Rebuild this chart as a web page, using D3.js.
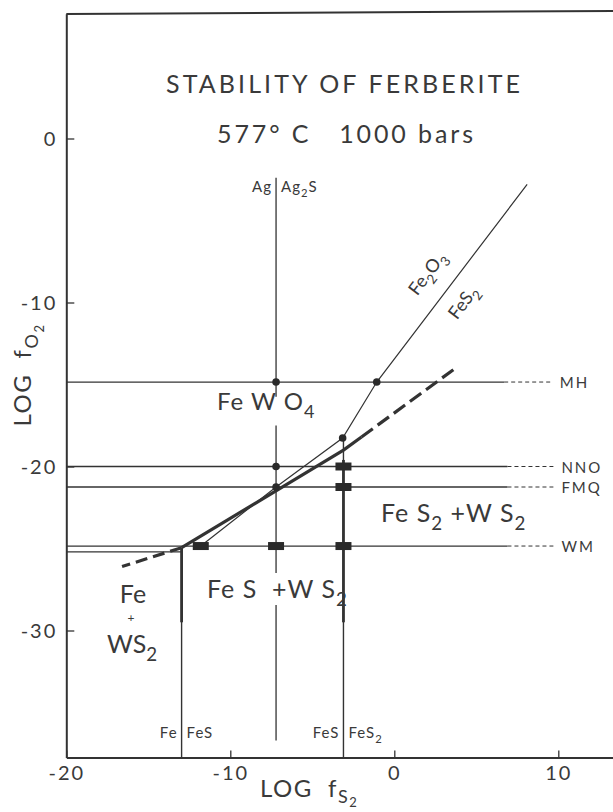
<!DOCTYPE html>
<html><head><meta charset="utf-8">
<script src="https://cdn.jsdelivr.net/npm/d3@7"></script>
<style>
html,body{margin:0;padding:0;background:#fff;}
svg{display:block;}
text{font-family:Lato,"Open Sans",sans-serif;fill:#3a3a3a;white-space:pre;}
</style></head><body>
<script>
// ---- data (log units) ----
const xTicks = [-20, -10, 0, 10];
const yTicks = [0, -10, -20, -30];
const bufferNames = ["MH", "NNO", "FMQ", "WM"];
const bufferLogFO2 = [-14.85, -20.0, -21.25, -24.85];
const bufferSolidTo = [6.7, 6.9, 6.9, 6.9];
const bufferDashTo = [9.6, 9.7, 9.7, 9.7];
const sulfidationLeft = ["Fe", "Ag", "FeS"];
const sulfidationRight = ["FeS", "Ag2S", "FeS2"];
const sulfidationLogFS2 = [-12.97, -7.21, -3.1];
const boundarySolid = [[-12.97, -24.95], [-3.1, -19.0], [-2.0, -18.2]];
const boundaryDashed = [[-2.0, -18.2], [3.6, -14.1]];
const metastableExt = [[-12.97, -24.95], [-16.6, -26.1]];
const feWS2Line = [[-20, -25.2], [-12.97, -25.2]];
const hemPyLine = [[8.1, -2.8], [-1.07, -14.85], [-3.15, -18.26], [-7.21, -21.25], [-11.8, -24.85]];
const agSegments = [[-2.4, -15.75], [-17.5, -26.5], [-28.45, -36.7]];
const feFeSThin = [-24.95, -37.75];
const feFeSThick = [-24.95, -29.5];
const feSFeS2Thin = [-18.26, -37.75];
const feSFeS2Thick = [-19.6, -29.5];
const circlePts = [[-7.21, -14.85], [-1.07, -14.85], [-7.21, -20.0], [-7.21, -21.25], [-3.15, -18.26]];
const boxPts = [[-3.1, -20.0], [-3.1, -21.25], [-3.1, -24.85], [-7.21, -24.85], [-11.8, -24.85]];

// ---- layout ----
const W = 613, H = 812;
const svg = d3.select("body").append("svg").attr("width", W).attr("height", H);
const x = d3.scaleLinear().domain([-20, 14]).range([66.3, 66.3 + 34 * 16.4]);
const y = d3.scaleLinear().domain([-37.75, 7.6]).range([138.5 + 37.75 * 16.4, 138.5 - 7.6 * 16.4]);
const ink = "#333";
const line = d3.line().x(d => x(d[0])).y(d => y(d[1]));

function path(pts, w, dash) {
  const p = svg.append("path").attr("d", line(pts)).attr("fill", "none")
    .attr("stroke", ink).attr("stroke-width", w);
  if (dash) p.attr("stroke-dasharray", dash);
  return p;
}
// parts: [text, level, (optional) font size]
function richText(px, py, parts, size, opts = {}) {
  const t = svg.append("text").attr("x", px).attr("y", py).attr("font-size", size);
  if (opts.anchor) t.attr("text-anchor", opts.anchor);
  if (opts.ls) t.attr("letter-spacing", opts.ls);
  if (opts.transform) t.attr("transform", opts.transform);
  const shift = opts.shift || [0, size * 0.32, size * 0.32 + 5];
  let prev = 0;
  parts.forEach(([s, l, f]) => {
    const fs = f || (l === 0 ? size : size * (l === 1 ? 0.75 : 0.55));
    t.append("tspan").attr("dy", shift[l] - prev).attr("font-size", fs).text(s);
    prev = shift[l];
  });
  return t;
}

// frame
svg.append("line").attr("x1", x(-20)).attr("x2", W + 5).attr("y1", 14).attr("y2", 11)
  .attr("stroke", ink).attr("stroke-width", 2);

// axes
const fmt = d => d < 0 ? "-" + Math.abs(d) : String(d);
const xAxis = d3.axisBottom(x).tickValues(xTicks).tickSizeInner(-7).tickSizeOuter(0).tickPadding(8).tickFormat(fmt);
const gx = svg.append("g").attr("transform", `translate(0,${y(-37.75)})`).call(xAxis);
const yAxis = d3.axisLeft(y).tickValues(yTicks).tickSizeInner(-8).tickSizeOuter(0).tickPadding(9).tickFormat(fmt);
const gy = svg.append("g").attr("transform", `translate(${x(-20)},0)`).call(yAxis);
[gx, gy].forEach(g => {
  g.select(".domain").attr("stroke", ink).attr("stroke-width", 2);
  g.selectAll(".tick line").attr("stroke", ink).attr("stroke-width", 1.3);
  g.selectAll(".tick text").attr("font-family", "Lato, 'Open Sans', sans-serif")
    .attr("font-size", 20).attr("fill", "#3a3a3a").attr("letter-spacing", 2);
});
gy.selectAll(".tick text").attr("dy", "0.36em");

// buffer lines
bufferLogFO2.forEach((v, i) => {
  path([[-20, v], [bufferSolidTo[i], v]], 1.3);
  path([[bufferSolidTo[i], v], [bufferDashTo[i], v]], 1, "4,3");
  svg.append("text").attr("x", x(bufferDashTo[i]) + 8).attr("y", y(v) + 6)
    .attr("font-size", 15).attr("letter-spacing", 2).text(bufferNames[i]);
});
path(feWS2Line, 1.3);

// sulfidation lines
agSegments.forEach(s => path([[sulfidationLogFS2[1], s[0]], [sulfidationLogFS2[1], s[1]]], 1.3));
path([[sulfidationLogFS2[0], feFeSThin[0]], [sulfidationLogFS2[0], feFeSThin[1]]], 1.4);
path([[sulfidationLogFS2[0], feFeSThick[0]], [sulfidationLogFS2[0], feFeSThick[1]]], 2.8);
path([[sulfidationLogFS2[2], feSFeS2Thin[0]], [sulfidationLogFS2[2], feSFeS2Thin[1]]], 1.4);
path([[sulfidationLogFS2[2], feSFeS2Thick[0]], [sulfidationLogFS2[2], feSFeS2Thick[1]]], 2.8);

// hematite/pyrite line
path(hemPyLine, 1.2);

// ferberite boundary
path(boundarySolid, 3.2);
path(boundaryDashed, 3.2, "14,6");
path(metastableExt, 3.2, "12,6");

// markers
svg.selectAll("circle.pt").data(circlePts).join("circle").attr("class", "pt")
  .attr("cx", d => x(d[0])).attr("cy", d => y(d[1])).attr("r", 3.8).attr("fill", "#2a2a2a");
svg.selectAll("rect.bx").data(boxPts).join("rect").attr("class", "bx")
  .attr("x", d => x(d[0]) - 8).attr("y", d => y(d[1]) - 4).attr("width", 16).attr("height", 8)
  .attr("fill", "#2a2a2a");

// sulfidation labels
const labY = [738, 192, 738];
sulfidationLogFS2.forEach((v, i) => {
  const xl = x(v);
  richText(xl - 4, labY[i], [[sulfidationLeft[i], 0]], 15, { anchor: "end", ls: 1 });
  const r = sulfidationRight[i];
  const parts = r === "Ag2S" ? [["Ag", 0], ["2", 1], ["S", 0]] : r === "FeS2" ? [["FeS", 0], ["2", 1]] : [["FeS", 0]];
  richText(xl + 5, labY[i], parts, 15, { ls: 1 });
});

// titles
svg.append("text").attr("x", 166).attr("y", 93).attr("font-size", 25)
  .attr("textLength", 354).attr("lengthAdjust", "spacing").text("STABILITY OF FERBERITE");
svg.append("text").attr("x", 217).attr("y", 143).attr("font-size", 25)
  .attr("textLength", 256).attr("lengthAdjust", "spacing").text("577° C   1000 bars");

// field labels
richText(217, 410, [["Fe W O", 0], ["4", 1]], 24, { ls: 1 });
richText(381, 522, [["Fe S", 0], ["2", 1], [" +W S", 0], ["2", 1]], 25, { ls: 1 });
richText(207, 598, [["Fe S  +W S", 0], ["2", 1]], 25, { ls: 1 });
richText(133, 603, [["Fe", 0]], 25, { anchor: "middle" });
richText(131, 622, [["+", 0]], 12, { anchor: "middle" });
richText(107, 653, [["WS", 0], ["2", 1]], 25, {});

// rotated line labels
const ang = -52.7;
richText(432, 277, [["Fe", 0], ["2", 1], ["O", 0], ["3", 1]], 18, { anchor: "middle", transform: `rotate(${ang},432,277)` });
richText(468, 306, [["Fe", 0], ["S", 0], ["2", 1]], 18, { anchor: "middle", transform: `rotate(${ang},468,306)` });

// axis titles
richText(260, 797, [["LOG  f", 0], ["S", 1], ["2", 2, 13]], 24, { ls: 1.5, shift: [0, 6, 10] });
richText(31, 375, [["LOG  f", 0], ["O", 1], ["2", 2, 13]], 24, { anchor: "middle", ls: 1.5, shift: [0, 7, 13], transform: "rotate(-90,31,375)" });
</script></body></html>
